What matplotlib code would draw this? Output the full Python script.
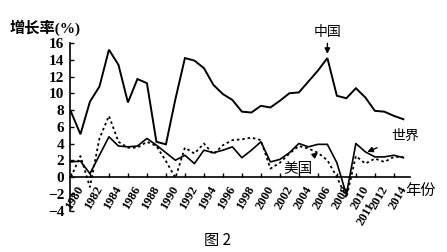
import matplotlib
matplotlib.use("Agg")
import matplotlib.pyplot as plt
import matplotlib.transforms as mtransforms

years = list(range(1980, 2016))
china = [7.8, 5.1, 9.0, 10.8, 15.2, 13.4, 8.9, 11.7, 11.2, 4.2, 3.9, 9.3, 14.2, 13.9,
         13.0, 11.0, 9.9, 9.2, 7.8, 7.7, 8.5, 8.3, 9.1, 10.0, 10.1, 11.4, 12.7, 14.2,
         9.7, 9.4, 10.6, 9.5, 7.9, 7.8, 7.3, 6.9]
world = [1.8, 1.9, 0.4, 2.6, 4.8, 3.7, 3.6, 3.7, 4.6, 3.8, 2.9, 2.0, 2.6, 1.6,
         3.2, 2.9, 3.2, 3.6, 2.3, 3.2, 4.2, 1.8, 2.1, 2.9, 4.0, 3.6, 3.9, 3.9,
         1.7, -2.1, 4.0, 3.0, 2.4, 2.4, 2.6, 2.3]
usa = [0.0, 2.5, -1.2, 4.6, 7.3, 4.2, 3.5, 3.5, 4.2, 3.7, 1.9, -0.1, 3.5, 2.8,
       4.0, 2.7, 3.8, 4.4, 4.5, 4.7, 4.4, 1.0, 1.7, 2.8, 3.7, 3.4, 2.9, 2.0,
       0.0, -2.5, 2.5, 1.6, 2.2, 1.8, 2.4, 2.4]
tick_years = [1980, 1982, 1984, 1986, 1988, 1990, 1992, 1994, 1996, 1998, 2000,
              2002, 2004, 2006, 2008, 2010, 2012, 2014]
extra_year = 2011
yticks = [16, 14, 12, 10, 8, 6, 4, 2, 0, -2, -4]

cjk = ['Noto Sans CJK SC', 'DejaVu Sans']
serif = 'Liberation Serif'

fig = plt.figure(figsize=(4.47, 2.52), dpi=100)
ax = fig.add_axes([70/447, 1-210.5/252, (410-70)/447, (210.5-43)/252])

ax.plot(years, china, color='black', lw=1.4, solid_joinstyle='miter')
ax.plot(years, world, color='black', lw=1.2)
ax.plot(years, usa, color='black', lw=1.3, linestyle=(0, (1.4, 1.6)))

ax.set_xlim(1979.9, 2015.7)
ax.set_ylim(-4, 16)
ax.spines['top'].set_visible(False)
ax.spines['right'].set_visible(False)
ax.spines['bottom'].set_position(('data', 0))
ax.spines['left'].set_linewidth(1.2)
ax.spines['bottom'].set_linewidth(1.2)

ax.set_yticks(yticks)
ax.set_yticklabels([str(v).replace('-', '\u2212') for v in yticks],
                   fontfamily=serif, fontweight='bold', fontsize=11)
ax.tick_params(axis='y', direction='in', length=3, width=1, pad=4)

ax.set_xticks(tick_years)
ax.set_xticklabels([str(y) for y in tick_years], rotation=60, ha='right', va='top',
                   rotation_mode='anchor', fontfamily=serif, fontweight='bold', fontsize=9)
ax.tick_params(axis='x', direction='in', length=3, width=1, pad=5)
shift = mtransforms.ScaledTranslation(5/100, 0, fig.dpi_scale_trans)
for lbl in ax.get_xticklabels():
    lbl.set_transform(lbl.get_transform() + shift)

trans = mtransforms.blended_transform_factory(ax.transData, ax.transAxes)
ax.text(extra_year - 0.4, 0.06, str(extra_year), transform=trans + shift, rotation=60,
        ha='right', va='top', rotation_mode='anchor', fontfamily=serif,
        fontweight='bold', fontsize=9)

# annotations
ax.annotate('中国', xy=(2007, 14.7), xytext=(2007, 17.3), ha='center', va='center',
            fontsize=10, family=cjk, annotation_clip=False,
            arrowprops=dict(arrowstyle='-|>', color='black', lw=1, mutation_scale=8,
                            shrinkA=1, shrinkB=0))
ax.annotate('世界', xy=(2011.2, 3.0), xytext=(2015.2, 4.9), ha='center', va='center',
            fontsize=10, family=cjk, annotation_clip=False,
            arrowprops=dict(arrowstyle='-|>', color='black', lw=1, mutation_scale=8,
                            shrinkA=9, shrinkB=0))
ax.annotate('美国', xy=(2006.0, 2.95), xytext=(2003.9, 0.95), ha='center', va='center',
            fontsize=10.5, family=cjk, annotation_clip=False,
            arrowprops=dict(arrowstyle='-|>', color='black', lw=1, mutation_scale=8,
                            shrinkA=6, shrinkB=0))

fig.text(420/447, 1-190/252, '年份', ha='center', va='center', fontsize=11, family=cjk)
fig.text(45/447, 1-28/252, '增长率(%)', ha='center', va='center', fontsize=11,
         family=[serif, 'Noto Sans CJK SC', 'DejaVu Sans'], fontweight='bold')
fig.text(217/447, 1-240/252, '图 2', ha='center', va='center', fontsize=11, family=cjk)

fig.savefig('out.png', dpi=100)
